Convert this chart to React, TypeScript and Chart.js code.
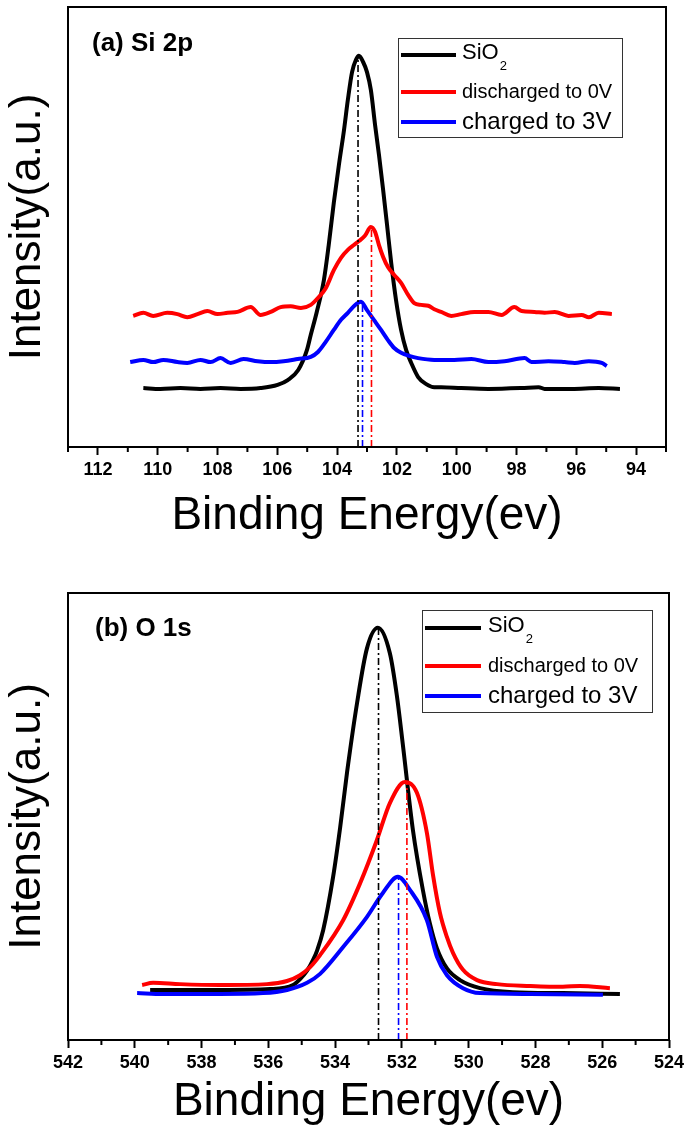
import React, { useEffect, useRef } from 'react';
import { Chart, registerables } from 'chart.js';

Chart.register(...registerables);

type Pt = [number, number];

// ---------- shared texts ----------
const seriesNames = ['SiO₂', 'discharged to 0V', 'charged to 3V'];
const seriesColors = ['#000000', '#ff0000', '#0000ff'];
const xTitle = 'Binding Energy(ev)';
const yTitle = 'Intensity(a.u.)';

// ---------- panel (a) Si 2p ----------
const siLabel = '(a) Si 2p';
const siRange = { min: 93, max: 113 };
const siTickValues = [94, 96, 98, 100, 102, 104, 106, 108, 110, 112];
const siSiO2: Pt[] = [
  [110.48, 13.4], [109.91, 13.2], [109.24, 13.4], [108.57, 13.2], [107.9, 13.4], [107.23, 13.2],
  [106.56, 13.4], [105.99, 14.1], [105.65, 15.2], [105.3, 17.5], [105.01, 22.0], [104.88, 25.5],
  [104.68, 30.7], [104.44, 38.0], [104.28, 45.9], [104.11, 55.5], [103.94, 64.1], [103.77, 72.0],
  [103.64, 78.9], [103.5, 85.2], [103.37, 88.0], [103.27, 88.9], [103.13, 87.5], [103.0, 85.2],
  [102.87, 81.1], [102.73, 73.2], [102.6, 66.4], [102.46, 58.4], [102.33, 50.5], [102.19, 41.8],
  [102.03, 33.4], [101.86, 26.6], [101.69, 22.0], [101.52, 19.1], [101.29, 15.9], [101.02, 14.3],
  [100.75, 13.6], [100.52, 13.6], [99.85, 13.4], [98.94, 13.2], [97.83, 13.4], [97.26, 13.6],
  [97.06, 13.2], [96.15, 13.2], [95.25, 13.4], [94.54, 13.2],
];
const siDischarged: Pt[] = [
  [110.82, 29.8], [110.48, 30.5], [110.15, 29.8], [109.68, 30.5], [109.34, 30.2], [109.01, 29.5],
  [108.67, 30.2], [108.34, 30.9], [108.0, 30.2], [107.66, 30.5], [107.33, 30.7], [106.89, 31.8],
  [106.56, 30.0], [106.22, 30.7], [105.89, 31.8], [105.55, 32.0], [105.21, 31.6], [104.88, 32.3],
  [104.61, 34.1], [104.38, 36.1], [104.11, 40.2], [103.87, 43.0], [103.64, 44.8], [103.44, 45.9],
  [103.27, 46.8], [103.07, 48.0], [102.87, 50.0], [102.73, 48.9], [102.6, 45.9], [102.46, 43.2],
  [102.3, 40.9], [102.09, 39.1], [101.86, 37.3], [101.62, 34.5], [101.42, 32.7], [101.19, 32.3],
  [100.95, 32.1], [100.75, 31.3], [100.52, 30.7], [100.18, 29.8], [99.85, 30.2], [99.41, 30.7],
  [98.94, 30.7], [98.5, 30.0], [98.07, 31.8], [97.83, 30.9], [97.4, 30.7], [97.06, 30.5],
  [96.72, 30.7], [96.26, 29.8], [95.82, 30.0], [95.58, 29.5], [95.25, 30.5], [94.81, 30.2],
];
const siCharged: Pt[] = [
  [110.92, 19.3], [110.48, 19.8], [110.15, 19.3], [109.81, 19.8], [109.34, 19.3], [109.01, 19.1],
  [108.57, 19.8], [108.23, 19.3], [107.9, 20.2], [107.56, 19.1], [107.13, 20.0], [106.66, 19.5],
  [106.22, 19.3], [105.79, 19.5], [105.32, 20.0], [104.88, 20.5], [104.64, 21.6], [104.38, 23.9],
  [104.11, 26.6], [103.87, 28.9], [103.64, 30.5], [103.44, 32.0], [103.2, 33.0], [103.0, 31.1],
  [102.77, 28.9], [102.53, 26.6], [102.3, 24.3], [102.09, 22.5], [101.86, 21.4], [101.59, 20.7],
  [101.29, 20.2], [100.75, 19.8], [100.08, 19.8], [99.51, 20.0], [98.94, 19.3], [98.4, 19.5],
  [97.73, 20.2], [97.5, 19.3], [96.93, 19.5], [96.39, 19.3], [96.05, 19.1], [95.58, 19.5],
  [95.15, 19.1], [94.98, 18.4],
];
// peak markers: [energy, peak height] for SiO2, discharged, charged
const siPeaks: Pt[] = [[103.3, 88.9], [102.85, 50.0], [103.15, 33.0]];

// ---------- panel (b) O 1s ----------
const oLabel = '(b) O 1s';
const oRange = { min: 524, max: 542 };
const oTickValues = [524, 526, 528, 530, 532, 534, 536, 538, 540, 542];
const oSiO2: Pt[] = [
  [539.54, 11.2], [538.65, 11.2], [537.45, 11.2], [535.95, 11.4], [535.26, 12.3], [535.05, 13.6],
  [534.84, 15.5], [534.66, 17.9], [534.54, 20.0], [534.36, 24.5], [534.06, 36.5], [533.85, 47.5],
  [533.64, 60.0], [533.34, 75.5], [533.05, 87.5], [532.72, 92.2], [532.36, 86.5], [532.15, 77.0],
  [531.97, 66.0], [531.67, 47.0], [531.37, 33.5], [531.16, 26.0], [530.95, 20.5], [530.65, 16.0],
  [530.26, 13.4], [529.66, 11.6], [528.67, 10.7], [527.18, 10.5], [525.47, 10.3],
];
const oDischarged: Pt[] = [
  [539.78, 12.3], [539.45, 12.8], [538.65, 12.5], [537.45, 12.3], [536.04, 12.5], [535.44, 13.2],
  [535.05, 14.5], [534.75, 16.3], [534.45, 19.0], [533.76, 26.8], [533.25, 35.1], [532.75, 44.7],
  [532.36, 53.0], [531.91, 57.7], [531.55, 55.3], [531.25, 46.3], [531.07, 37.0], [530.86, 28.4],
  [530.65, 23.0], [530.47, 19.5], [530.17, 15.7], [529.75, 13.4], [529.15, 12.5], [528.16, 12.1],
  [527.18, 11.9], [526.67, 12.1], [525.77, 11.6],
];
const oCharged: Pt[] = [
  [539.93, 10.5], [539.15, 10.3], [537.45, 10.3], [536.16, 10.5], [535.44, 11.2], [534.84, 12.8],
  [534.45, 14.8], [533.76, 20.8], [533.05, 27.5], [532.57, 32.9], [532.12, 36.5], [531.76, 33.6],
  [531.25, 26.8], [530.95, 18.6], [530.65, 14.5], [530.17, 11.6], [529.66, 10.5], [528.16, 10.3],
  [525.98, 10.1],
];
const oPeaks: Pt[] = [[532.7, 92.2], [531.85, 57.7], [532.1, 36.5]];

// ---------- layout / style (not data) ----------
const W = 687;
const SANS = "'Liberation Sans', Arial, sans-serif";
const TICKFONT = "'Liberation Sans Narrow', 'Liberation Sans', Arial, sans-serif";

interface PanelCfg {
  h: number;
  plot: { left: number; right: number; top: number; bottom: number };
  titlePad: number;
  label: string;
  labelPos: [number, number];
  legendBox: [number, number, number, number];
  legendRows: number[];
  legendLineX: [number, number];
  legendTextX: number;
  range: { min: number; max: number };
  tickValues: number[];
  series: Pt[][];
  peaks: Pt[];
}

const panels: PanelCfg[] = [
  {
    h: 565,
    plot: { left: 68, right: 666, top: 7, bottom: 447 },
    titlePad: 26,
    label: siLabel,
    labelPos: [92, 44],
    legendBox: [398, 38, 224, 99],
    legendRows: [55, 92, 122],
    legendLineX: [401, 456],
    legendTextX: 462,
    range: siRange,
    tickValues: siTickValues,
    series: [siSiO2, siDischarged, siCharged],
    peaks: siPeaks,
  },
  {
    h: 566,
    plot: { left: 68, right: 669, top: 28, bottom: 475 },
    titlePad: 6,
    label: oLabel,
    labelPos: [95, 64],
    legendBox: [422, 45, 230, 102],
    legendRows: [63, 101, 131],
    legendLineX: [425, 481],
    legendTextX: 488,
    range: oRange,
    tickValues: oTickValues,
    series: [oSiO2, oDischarged, oCharged],
    peaks: oPeaks,
  },
];

const legendFontSizes = [22, 20, 24];

function makePlugin(cfg: PanelCfg) {
  return {
    id: 'xpsDecor',
    afterDraw(chart: any) {
      const { ctx, chartArea: a, scales } = chart;
      const xs = scales.x;
      ctx.save();
      ctx.strokeStyle = '#000';
      ctx.lineWidth = 2;
      // minor ticks at odd energies
      for (let v = Math.ceil(xs.min); v <= xs.max; v++) {
        if (Math.abs(v % 2) === 1) {
          const px = xs.getPixelForValue(v);
          ctx.beginPath();
          ctx.moveTo(px, a.bottom);
          ctx.lineTo(px, a.bottom + 5);
          ctx.stroke();
        }
      }
      // frame
      ctx.strokeRect(a.left, a.top, a.right - a.left, a.bottom - a.top);

      // panel label
      ctx.fillStyle = '#000';
      ctx.font = `bold 26px ${SANS}`;
      ctx.textBaseline = 'middle';
      ctx.textAlign = 'left';
      ctx.fillText(cfg.label, cfg.labelPos[0], cfg.labelPos[1]);

      // legend
      const [bx, by, bw, bh] = cfg.legendBox;
      ctx.lineWidth = 1;
      ctx.strokeStyle = '#333';
      ctx.strokeRect(bx + 0.5, by + 0.5, bw, bh);
      for (let i = 0; i < 3; i++) {
        const ds = chart.data.datasets[i];
        const y = cfg.legendRows[i];
        ctx.strokeStyle = ds.borderColor;
        ctx.lineWidth = 4;
        ctx.beginPath();
        ctx.moveTo(cfg.legendLineX[0], y);
        ctx.lineTo(cfg.legendLineX[1], y);
        ctx.stroke();
        ctx.fillStyle = '#000';
        const fs = legendFontSizes[i];
        ctx.font = `${fs}px ${SANS}`;
        ctx.textBaseline = 'middle';
        const label: string = ds.label;
        if (label.includes('₂')) {
          const [main, rest] = label.split('₂');
          ctx.fillText(main, cfg.legendTextX, y - 2);
          const w = ctx.measureText(main).width;
          ctx.font = `${Math.round(fs * 0.6)}px ${SANS}`;
          ctx.fillText('2', cfg.legendTextX + w + 1, y + 11);
          if (rest) ctx.fillText(rest, cfg.legendTextX + w + 10, y);
        } else {
          ctx.fillText(label, cfg.legendTextX, y);
        }
      }
      ctx.restore();
    },
  };
}

function buildConfig(cfg: PanelCfg): any {
  const curveSets = cfg.series.map((s, i) => ({
    label: seriesNames[i],
    data: s.map(([x, y]) => ({ x, y })),
    borderColor: seriesColors[i],
    backgroundColor: seriesColors[i],
    borderWidth: 4,
    pointRadius: 0,
    showLine: true,
    cubicInterpolationMode: 'monotone',
    order: 3 - i,
  }));
  const peakSets = cfg.peaks.map(([x, y], i) => ({
    label: seriesNames[i] + ' peak',
    data: [{ x, y: 0 }, { x, y }],
    borderColor: seriesColors[i],
    borderWidth: 1.6,
    borderDash: [7, 3, 2, 3],
    pointRadius: 0,
    showLine: true,
    order: 0,
  }));
  return {
    type: 'scatter',
    data: { datasets: [...curveSets, ...peakSets] },
    options: {
      animation: false,
      responsive: false,
      devicePixelRatio: 1,
      events: [],
      layout: {
        padding: { left: 0, top: cfg.plot.top, right: W - cfg.plot.right, bottom: 0 },
      },
      plugins: { legend: { display: false }, tooltip: { enabled: false }, title: { display: false } },
      scales: {
        x: {
          type: 'linear',
          position: 'bottom',
          reverse: true,
          min: cfg.range.min,
          max: cfg.range.max,
          afterBuildTicks: (s: any) => {
            s.ticks = cfg.tickValues.map((v) => ({ value: v }));
          },
          afterFit: (s: any) => {
            s.height = cfg.h - cfg.plot.bottom;
            s.paddingLeft = 0;
            s.paddingRight = 0;
          },
          ticks: {
            autoSkip: false,
            maxRotation: 0,
            color: '#000',
            padding: 4,
            font: { family: TICKFONT, size: 18, weight: 'bold' },
            callback: (v: number) => String(v),
          },
          grid: { drawOnChartArea: false, drawTicks: true, tickLength: 8, tickColor: '#000', tickWidth: 2 },
          border: { display: false },
          title: {
            display: true,
            text: xTitle,
            color: '#000',
            font: { family: SANS, size: 46, lineHeight: 1 },
            padding: { top: 0, bottom: cfg.titlePad },
          },
        },
        y: {
          type: 'linear',
          position: 'left',
          min: 0,
          max: 100,
          afterFit: (s: any) => {
            s.width = cfg.plot.left;
          },
          ticks: { display: false },
          grid: { display: false },
          border: { display: false },
          title: {
            display: true,
            text: yTitle,
            color: '#000',
            font: { family: SANS, size: 44, lineHeight: 1 },
            padding: { top: 6, bottom: 0 },
          },
        },
      },
    },
    plugins: [makePlugin(cfg)],
  };
}

function Panel({ cfg }: { cfg: PanelCfg }) {
  const ref = useRef<HTMLCanvasElement>(null);
  useEffect(() => {
    if (!ref.current) return;
    const chart = new Chart(ref.current, buildConfig(cfg));
    return () => chart.destroy();
  }, [cfg]);
  return (
    <canvas
      ref={ref}
      width={W}
      height={cfg.h}
      style={{ display: 'block', width: W, height: cfg.h }}
    />
  );
}

export default function App() {
  return (
    <div style={{ position: 'absolute', left: 0, top: 0, width: W, height: 1131, background: '#fff' }}>
      {panels.map((p, i) => (
        <Panel key={i} cfg={p} />
      ))}
    </div>
  );
}
